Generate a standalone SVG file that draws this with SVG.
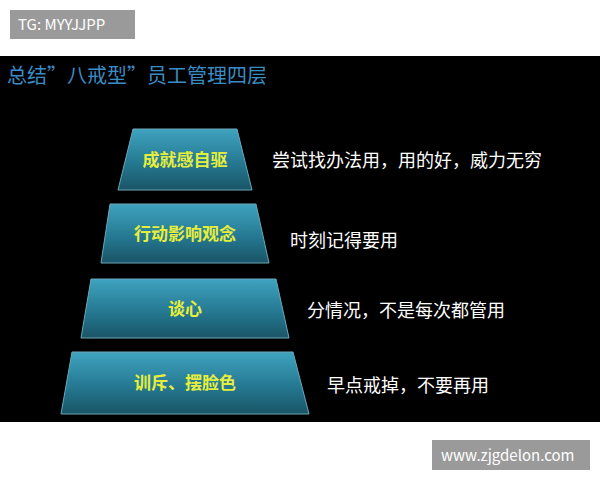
<svg xmlns="http://www.w3.org/2000/svg" width="600" height="480" viewBox="0 0 600 480">
<style>
.f{font-family:"Noto Sans CJK SC","Liberation Sans",sans-serif}
.lbl{font-size:17px;font-weight:bold;fill:#e6ee3c;text-anchor:middle}
.r{font-size:18px;fill:#fff}
.t{fill:url(#g);stroke:#6aa8b8;stroke-width:1}
.tag{fill:#9a9a9a}
</style>
<defs><linearGradient id="g" x1="0" y1="0" x2="0" y2="1"><stop offset="0" stop-color="#3fa3c0"/><stop offset="0.6" stop-color="#23758d"/><stop offset="1" stop-color="#1a5466"/></linearGradient></defs>
<rect width="600" height="480" fill="#fff"/>
<rect y="56" width="600" height="366" fill="#000"/>
<g id="tag1"><rect class="tag" x="10" y="10" width="125" height="29"/><text class="f" x="18" y="30" font-size="15" fill="#fff">TG: MYYJJPP</text></g>
<g id="tag2"><rect class="tag" x="432" y="440" width="158" height="30"/><text class="f" x="441" y="461" font-size="15" fill="#fff">www.zjgdelon.com</text></g>
<text class="f" x="7" y="83" font-size="20" fill="#3a8cc4">总结”八戒型”员工管理四层</text>
<g id="n1"><polygon class="t" points="133,129 237,129 252,190 118,190"/><text class="f lbl" x="185" y="166">成就感自驱</text></g>
<g id="n2"><polygon class="t" points="110,204 256,204 269,263 101,263"/><text class="f lbl" x="185" y="240">行动影响观念</text></g>
<g id="n3"><polygon class="t" points="91,279 276,279 289,338 81,338"/><text class="f lbl" x="185" y="315">谈心</text></g>
<g id="n4"><polygon class="t" points="72,352 293,352 309,414 61,414"/><text class="f lbl" x="185" y="389">训斥、摆脸色</text></g>
<text class="f r" x="272" y="167">尝试找办法用，用的好，威力无穷</text>
<text class="f r" x="290" y="247">时刻记得要用</text>
<text class="f r" x="307" y="317">分情况，不是每次都管用</text>
<text class="f r" x="327" y="392">早点戒掉，不要再用</text>
</svg>
